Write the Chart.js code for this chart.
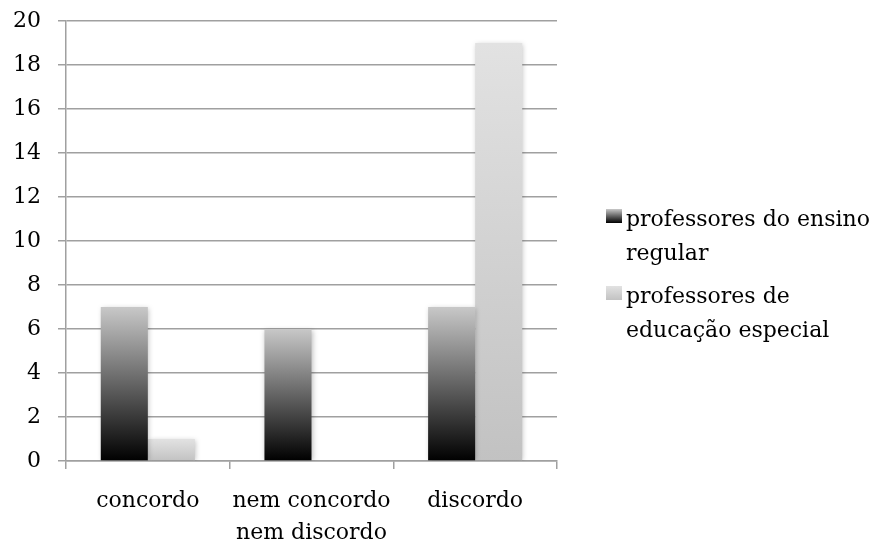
<!DOCTYPE html>
<html>
<head>
<meta charset="utf-8">
<script src="https://cdn.jsdelivr.net/npm/chart.js@4/dist/chart.umd.min.js"></script>
<style>
  html, body { margin: 0; padding: 0; background: #fff; }
  #wrap { position: relative; width: 879px; height: 541px; }
  #legend { position: absolute; left: 606px; top: 202px; font-family: 'DejaVu Serif', serif; font-size: 22px; line-height: 34px; color: #000; }
  .item { position: relative; padding-left: 20px; width: 252px; margin-bottom: 9px; }
  .box { position: absolute; left: 0; top: 7px; width: 16px; height: 14px; }
</style>
</head>
<body>
<div id="wrap">
  <canvas id="chart" width="879" height="541"></canvas>
  <div id="legend"></div>
</div>
<script>
const categories = ['concordo', ['nem concordo', 'nem discordo'], 'discordo']
const regularValues = [7, 6, 7]
const specialValues = [1, 0, 19]
const seriesNames = ['professores do ensino regular', 'professores de educação especial']
const yTicks = [0, 2, 4, 6, 8, 10, 12, 14, 16, 18, 20]

const FONT = 'DejaVu Serif'

// gradient per bar, from the bar base to its top
const barGradient = (bottomColor, topColor) => ctx => {
    const chart = ctx.chart
    if (!chart.chartArea || ctx.raw === undefined) return bottomColor
    const y = chart.scales.y
    const top = y.getPixelForValue(ctx.raw)
    const base = y.getPixelForValue(0)
    if (base - top < 1) return bottomColor
    const g = chart.ctx.createLinearGradient(0, base, 0, top)
    g.addColorStop(0, bottomColor)
    g.addColorStop(1, topColor)
    return g
}

const shadowPlugin = {
    id: 'barShadow',
    beforeDatasetsDraw(chart) {
        const c = chart.ctx
        c.save()
        c.shadowColor = 'rgba(0,0,0,0.25)'
        c.shadowBlur = 5
        c.shadowOffsetX = 1
        c.shadowOffsetY = 1
    },
    afterDatasetsDraw(chart) {
        chart.ctx.restore()
    }
}

const chart = new Chart(document.getElementById('chart'), {
    type: 'bar',
    data: {
        labels: categories,
        datasets: [
            {
                label: seriesNames[0],
                data: regularValues,
                backgroundColor: barGradient('#000000', '#c8c8c8')
            },
            {
                label: seriesNames[1],
                data: specialValues,
                backgroundColor: barGradient('#c2c2c2', '#e2e2e2')
            }
        ]
    },
    options: {
        responsive: false,
        animation: false,
        layout: { padding: { top: 21, right: 322, left: 0, bottom: 0 } },
        datasets: { bar: { categoryPercentage: 0.575, barPercentage: 1 } },
        plugins: { legend: { display: false }, tooltip: { enabled: false } },
        scales: {
            x: {
                grid: { offset: true, drawOnChartArea: false, color: '#a0a0a0', lineWidth: 1.5, tickLength: 8 },
                border: { color: '#a0a0a0', width: 1.5 },
                ticks: { color: '#000', font: { family: FONT, size: 22, lineHeight: 1.45 }, padding: 16, maxRotation: 0 },
                afterFit: s => { s.height = 80 }
            },
            y: {
                min: 0,
                max: 20,
                afterBuildTicks: s => { s.ticks = yTicks.map(v => ({ value: v })) },
                grid: { color: '#a0a0a0', lineWidth: 1.5, tickLength: 8 },
                border: { color: '#a0a0a0', width: 1.5 },
                ticks: { color: '#000', font: { family: FONT, size: 22 }, padding: 17 },
                afterFit: s => { s.width = 66; s.paddingTop = 0; s.paddingBottom = 0 }
            }
        }
    },
    plugins: [shadowPlugin]
})

// legend with wrapped text, built from the datasets
const legend = document.getElementById('legend')
chart.data.datasets.forEach((ds, i) => {
    const item = document.createElement('div')
    item.className = 'item'
    const box = document.createElement('span')
    box.className = 'box'
    box.style.background = i === 0
        ? 'linear-gradient(to top, #000, #c8c8c8)'
        : 'linear-gradient(to top, #c2c2c2, #e2e2e2)'
    item.appendChild(box)
    item.appendChild(document.createTextNode(ds.label))
    legend.appendChild(item)
})
</script>
</body>
</html>
